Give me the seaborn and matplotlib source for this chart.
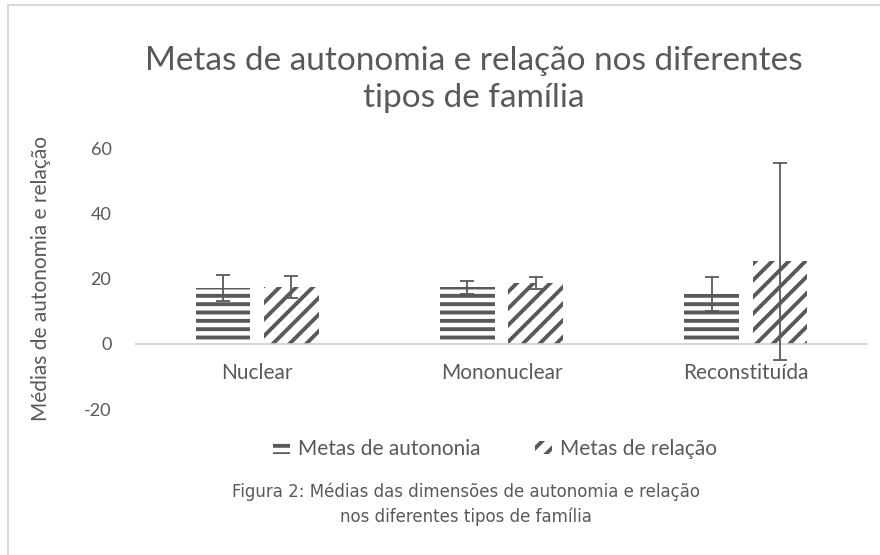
import numpy as np
import pandas as pd
import matplotlib
matplotlib.use("Agg")
import matplotlib.pyplot as plt
from matplotlib.patches import Patch, Rectangle
import seaborn as sns

# dados
tipos = ['Nuclear', 'Mononuclear', 'Reconstituída']
series = ['Metas de autononia', 'Metas de relação']
media_autonomia = [17.2, 17.4, 15.3]
media_relacao = [17.4, 18.6, 25.3]
erro_autonomia = [4.0, 2.0, 5.2]
erro_relacao = [3.4, 1.8, 30.3]

cinza = '#595959'

sns.set_theme(style='white')
plt.rcParams['font.family'] = ['Lato', 'DejaVu Sans']
plt.rcParams['axes.unicode_minus'] = False
plt.rcParams['hatch.linewidth'] = 2.8

df = pd.DataFrame({
    'tipo': tipos * 2,
    'meta': [series[0]] * 3 + [series[1]] * 3,
    'media': media_autonomia + media_relacao,
})

fig = plt.figure(figsize=(8.8, 5.55), dpi=100)
ax = fig.add_axes([0.1534, 0.263, 0.833, 0.470])

sns.barplot(data=df, x='tipo', y='media', hue='meta', order=tipos,
            hue_order=series, width=0.56, gap=0.2, errorbar=None,
            ax=ax, legend=False)

hatches = ['--', '//']
erros = [erro_autonomia, erro_relacao]
for cont, h, err in zip(ax.containers, hatches, erros):
    xs, ys = [], []
    for bar in cont:
        bar.set_facecolor('white')
        bar.set_edgecolor(cinza)
        bar.set_linewidth(0)
        bar.set_hatch(h)
        xs.append(bar.get_x() + bar.get_width() / 2)
        ys.append(bar.get_height())
    ax.errorbar(xs, ys, yerr=err, fmt='none', ecolor=cinza, elinewidth=1.3,
                capsize=5, capthick=1.3, zorder=5)

ax.set_xlim(-0.5, 2.5)
ax.set_ylim(-20, 60)
ax.set_yticks([-20, 0, 20, 40, 60])
ax.axhline(0, color='#d0d0d0', lw=1.2, zorder=1)
for s in ax.spines.values():
    s.set_visible(False)
ax.tick_params(axis='both', length=0, colors=cinza, labelsize=13)
ax.tick_params(axis='y', pad=17)
ax.set_xlabel('')
ax.set_ylabel('Médias de autonomia e relação', color=cinza, fontsize=15)
ax.yaxis.set_label_coords(-0.114, 0.5)

# rótulos das categorias logo abaixo do zero
ax.set_xticklabels([])
for i, t in enumerate(tipos):
    ax.text(i, -9.0, t, ha='center', va='center', color=cinza, fontsize=15)

fig.text(0.538, 0.857, 'Metas de autonomia e relação nos diferentes\ntipos de família',
         ha='center', va='center', color=cinza, fontsize=24, linespacing=1.3)

handles = [Patch(facecolor='white', edgecolor=cinza, hatch=h, linewidth=0) for h in hatches]
fig.legend(handles, series, loc='center', bbox_to_anchor=(0.5625, 0.191), ncol=2,
           frameon=False, fontsize=15, handlelength=0.8, handleheight=0.6,
           handletextpad=0.4, columnspacing=2.6, labelcolor=cinza)

fig.text(0.53, 0.092, 'Figura 2: Médias das dimensões de autonomia e relação\nnos diferentes tipos de família',
         ha='center', va='center', color=cinza, fontsize=12, linespacing=1.45,
         family=['DejaVu Sans'])

fig.patches.append(Rectangle((0.009, -0.05), 1.2, 1.041, transform=fig.transFigure,
                             fill=False, edgecolor='#d9d9d9', lw=1.5))

fig.savefig('out.png', dpi=100)
